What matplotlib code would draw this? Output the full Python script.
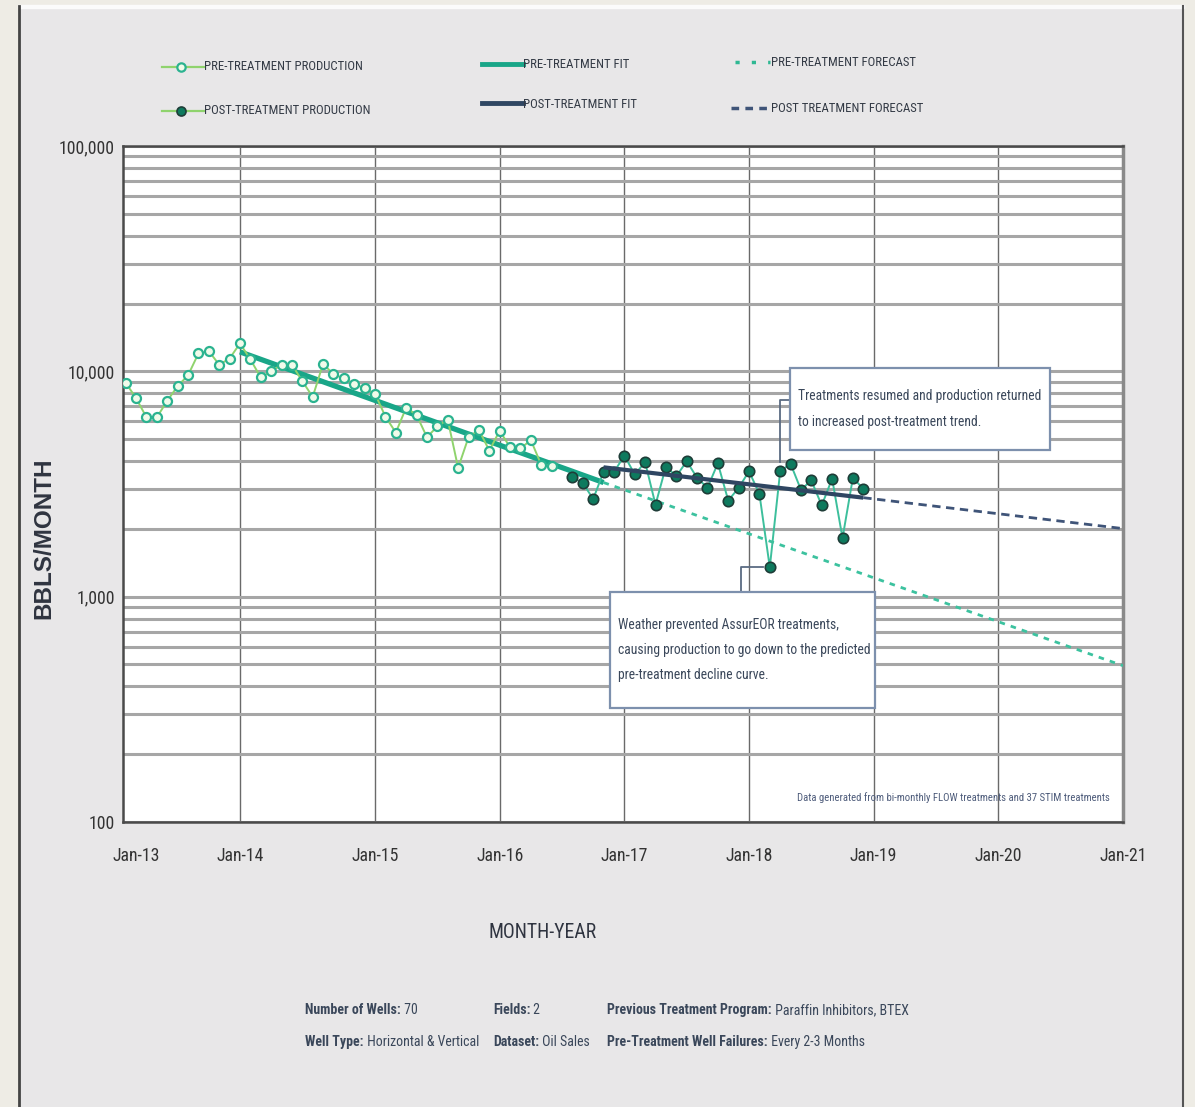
import matplotlib
matplotlib.use("Agg")
import matplotlib.pyplot as plt
from matplotlib import font_manager
from matplotlib.lines import Line2D
from matplotlib.patches import Rectangle
from matplotlib.ticker import FuncFormatter, LogLocator, NullFormatter


def pick_font(names):
    for n in names:
        try:
            font_manager.findfont(font_manager.FontProperties(family=n), fallback_to_default=False)
            return n
        except ValueError:
            pass
    return "DejaVu Sans"


NARROW = pick_font(["Liberation Sans Narrow", "Roboto Condensed", "DejaVu Sans"])
BOLD_SANS = pick_font(["Liberation Sans", "DejaVu Sans"])

# months counted from the first production month
pre_month = list(range(0, 42))
pre_bbls = [8900, 7600, 6250, 6250, 7400, 8600, 9600, 12000, 12300, 10700, 11400, 13300,
            11300, 9400, 10000, 10700, 10700, 9050, 7700, 10800, 9700, 9300, 8800, 8400,
            7950, 6300, 5350, 6900, 6400, 5100, 5700, 6100, 3730, 5100, 5500, 4450,
            5450, 4600, 4550, 4950, 3850, 3820]

post_month = list(range(43, 72))
post_bbls = [3380, 3200, 2710, 3590, 3570, 4230, 3490, 3950, 2560, 3780, 3420, 3990,
             3370, 3040, 3910, 2670, 3040, 3600, 2860, 1350, 3600, 3890, 2980, 3280,
             2540, 3340, 1820, 3370, 3010]

pre_fit_month = [11, 46]
pre_fit_bbls = [12200, 3210]
pre_fcst_month = [46, 96]
pre_fcst_bbls = [3210, 494]

post_fit_month = [46, 71]
post_fit_bbls = [3750, 2750]
post_fcst_month = [71, 96]
post_fcst_bbls = [2750, 2005]

tick_month = [1, 11, 24, 36, 48, 60, 72, 84, 96]
tick_labels = ["Jan-13", "Jan-14", "Jan-15", "Jan-16", "Jan-17", "Jan-18", "Jan-19", "Jan-20", "Jan-21"]

PRE_LINE = "#8fd36d"
PRE_EDGE = "#2bb390"
PRE_FACE = "#f1fbea"
POST_LINE = "#3dbf9c"
POST_FACE = "#0e7a5e"
POST_EDGE = "#1f3d38"
PRE_FIT = "#19a688"
POST_FIT = "#2f4662"
TEXT = "#3a475a"

W, H = 1195, 1107
fig = plt.figure(figsize=(W / 100, H / 100), dpi=100, facecolor="#e8e7e8")


def fx(px):
    return px / W


def fy(py):
    return 1 - py / H


# page edges
fig.patches.append(Rectangle((0, 0), fx(18), 1, transform=fig.transFigure, color="#eeece5", zorder=0))
fig.patches.append(Rectangle((fx(1184), 0), 1, 1, transform=fig.transFigure, color="#eeece5", zorder=0))
fig.patches.append(Rectangle((0, fy(5)), 1, 1, transform=fig.transFigure, color="#eeece5", zorder=0))
fig.patches.append(Rectangle((fx(18), fy(8)), fx(1184) - fx(18), fy(5) - fy(8),
                             transform=fig.transFigure, color="#fbfbfb", zorder=0))
fig.add_artist(Line2D([fx(19), fx(19)], [0, fy(6)], transform=fig.transFigure, color="#444444", lw=2))
fig.add_artist(Line2D([fx(1183), fx(1183)], [0, fy(6)], transform=fig.transFigure, color="#555555", lw=1.5))

ax = fig.add_axes([fx(123), fy(822), fx(1123) - fx(123), fy(146) - fy(822)])
ax.set_facecolor("white")
ax.set_yscale("log")
ax.set_ylim(100, 100000)
ax.set_xlim(-0.26, 96)

ax.yaxis.set_major_locator(LogLocator(base=10))
ax.yaxis.set_minor_locator(LogLocator(base=10, subs=range(2, 10)))
ax.yaxis.set_minor_formatter(NullFormatter())
ax.yaxis.set_major_formatter(FuncFormatter(lambda v, p: f"{v:,.0f}"))
ax.grid(True, axis="y", which="both", color="#a6a6a6", lw=2.2, zorder=1)
for m in tick_month[1:-1]:
    ax.axvline(m, color="#6a6a6a", lw=1, zorder=1)

ax.set_xticks(tick_month)
ax.set_xticklabels(tick_labels)
ax.tick_params(axis="both", which="both", length=0, labelsize=12.8, labelcolor="#333333")
ax.tick_params(axis="x", pad=18)
ax.tick_params(axis="y", pad=6)
for lab in ax.get_xticklabels() + ax.get_yticklabels():
    lab.set_fontfamily(NARROW)

for side in ["top", "left", "bottom"]:
    ax.spines[side].set_color("#4a4a4a")
    ax.spines[side].set_linewidth(1.8)
ax.spines["right"].set_color("#8a8a8a")
ax.spines["right"].set_linewidth(2.5)

# forecasts and fits
ax.plot(pre_fcst_month, pre_fcst_bbls, color="#3cc29f", lw=2, ls=(0, (2, 2.2)), zorder=3)
ax.plot(post_fcst_month, post_fcst_bbls, color="#3f5478", lw=2, ls=(0, (3, 2)), zorder=3)
ax.plot(pre_fit_month, pre_fit_bbls, color=PRE_FIT, lw=3.8, solid_capstyle="butt", zorder=4)

# production
ax.plot(pre_month, pre_bbls, color=PRE_LINE, lw=1.4, marker="o", ms=6.5,
        mfc=PRE_FACE, mec=PRE_EDGE, mew=1.6, zorder=5)
ax.plot(post_month, post_bbls, color=POST_LINE, lw=1.4, marker="o", ms=7.5,
        mfc=POST_FACE, mec=POST_EDGE, mew=1.2, zorder=5)
ax.plot(post_fit_month, post_fit_bbls, color=POST_FIT, lw=3, solid_capstyle="butt", zorder=6)

ax.set_ylabel("BBLS/MONTH", fontsize=17.5, fontweight="bold", color="#2f3440",
              family=BOLD_SANS)
ax.yaxis.set_label_coords(-0.068, 0.42)
fig.text(fx(543), fy(932), "MONTH-YEAR", ha="center", va="center", fontsize=14.2,
         family=NARROW, color="#2f3440")

# note inside the plot area
ax.text(0.987, 0.036, "Data generated from bi-monthly FLOW treatments and 37 STIM treatments",
        transform=ax.transAxes, ha="right", va="center", fontsize=7.7, family=NARROW,
        color="#4d5b7a", zorder=7)

# callouts


def callout(x0, y0, x1, y1, lines, leader, spacing):
    ax.add_patch(Rectangle((x0, y0), x1 - x0, y1 - y0, transform=ax.transAxes,
                           facecolor="white", edgecolor="#7d90ad", lw=1.6, zorder=8, clip_on=False))
    ax.text(x0 + 0.008, (y0 + y1) / 2, "\n".join(lines), transform=ax.transAxes,
            ha="left", va="center", fontsize=9.8, family=NARROW, color=TEXT,
            linespacing=spacing, zorder=9)
    ax.plot(leader[0], leader[1], transform=ax.transAxes, color="#5b6b82", lw=1.3,
            zorder=7, clip_on=False)


callout(0.667, 0.5503, 0.927, 0.6716,
        ["Treatments resumed and production returned", "to increased post-treatment trend."],
        ([0.667, 0.657, 0.657], [0.6243, 0.6243, 0.5325]), 2.15)
callout(0.487, 0.1686, 0.752, 0.3402,
        ["Weather prevented AssurEOR treatments,",
         "causing production to go down to the predicted",
         "pre-treatment decline curve."],
        ([0.618, 0.618, 0.640], [0.3402, 0.3772, 0.3772]), 2.0)

# legend
leg_size = 9.2


def leg_text(px, py, s):
    fig.text(fx(px), fy(py), s, ha="left", va="center", fontsize=leg_size,
             family=NARROW, color="#333a45")


fig.add_artist(Line2D([fx(162), fx(204)], [fy(67), fy(67)], transform=fig.transFigure,
                      color=PRE_LINE, lw=1.6))
fig.add_artist(Line2D([fx(181)], [fy(67)], transform=fig.transFigure, marker="o", ms=6,
                      mfc=PRE_FACE, mec=PRE_EDGE, mew=1.6))
leg_text(204, 67, "PRE-TREATMENT PRODUCTION")
fig.add_artist(Line2D([fx(162), fx(204)], [fy(111), fy(111)], transform=fig.transFigure,
                      color=PRE_LINE, lw=1.6))
fig.add_artist(Line2D([fx(181)], [fy(111)], transform=fig.transFigure, marker="o", ms=6.5,
                      mfc=POST_FACE, mec=POST_EDGE, mew=1.2))
leg_text(204, 111, "POST-TREATMENT PRODUCTION")

fig.add_artist(Line2D([fx(482), fx(523)], [fy(64), fy(64)], transform=fig.transFigure,
                      color=PRE_FIT, lw=3.5))
leg_text(523, 64, "PRE-TREATMENT FIT")
fig.add_artist(Line2D([fx(482), fx(523)], [fy(103), fy(103)], transform=fig.transFigure,
                      color=POST_FIT, lw=3.5))
leg_text(523, 104, "POST-TREATMENT FIT")

fig.add_artist(Line2D([fx(735), fx(770)], [fy(62), fy(62)], transform=fig.transFigure,
                      color="#2fb893", lw=2.5, ls=(0, (1.2, 3.5))))
leg_text(771, 62, "PRE-TREATMENT FORECAST")
fig.add_artist(Line2D([fx(731), fx(770)], [fy(108), fy(108)], transform=fig.transFigure,
                      color="#3f5478", lw=2.5, ls=(0, (2.2, 1.8))))
leg_text(771, 108, "POST TREATMENT FORECAST")

# well summary
summary = [
    (305, 1010, "Number of Wells:", "70"),
    (305, 1042, "Well Type:", "Horizontal & Vertical"),
    (493, 1010, "Fields:", "2"),
    (493, 1042, "Dataset:", "Oil Sales"),
    (607, 1010, "Previous Treatment Program:", "Paraffin Inhibitors, BTEX"),
    (607, 1042, "Pre-Treatment Well Failures:", "Every 2-3 Months"),
]
for px, py, key, val in summary:
    t = fig.text(fx(px), fy(py), key, ha="left", va="center", fontsize=10,
                 family=NARROW, fontweight="bold", color=TEXT)
    ax.annotate(" " + val, xy=(1, 0.5), xycoords=t, ha="left", va="center", fontsize=10,
                family=NARROW, color=TEXT, annotation_clip=False)

fig.savefig("out.png", dpi=100, facecolor=fig.get_facecolor())
